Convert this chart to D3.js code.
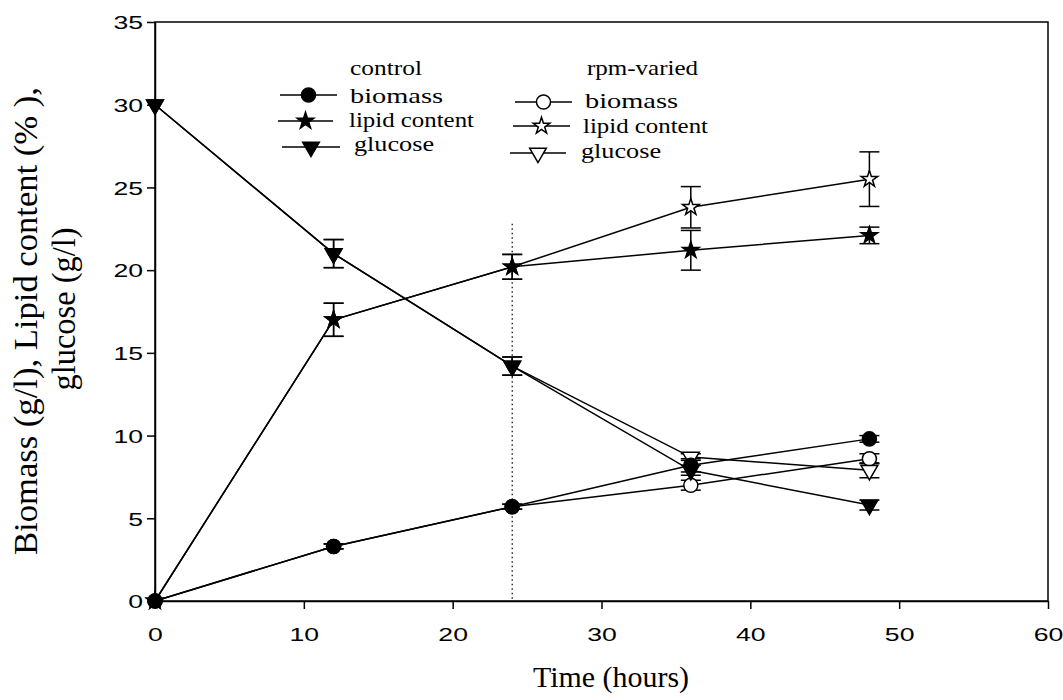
<!DOCTYPE html>
<html>
<head>
<meta charset="utf-8">
<script src="https://cdn.jsdelivr.net/npm/d3@7"></script>
<style>
  html, body { margin: 0; padding: 0; background: #fff; }
  svg { display: block; }
</style>
</head>
<body>
<svg id="chart" width="1063" height="700"></svg>
<script>
// Sampling times (hours)
const hours = [0, 12, 24, 36, 48];

// Control culture
const ctrlBiomass = [0, 3.3, 5.7, 8.2, 9.8];
const ctrlBiomassErr = [0, 0.15, 0.15, 0.4, 0.2];
const ctrlLipid = [0, 17.0, 20.2, 21.2, 22.1];
const ctrlLipidErr = [0, 1.0, 0.75, 1.2, 0.5];
const ctrlGlucose = [30, 21.0, 14.2, 7.9, 5.8];
const ctrlGlucoseErr = [0, 0.85, 0.55, 0.3, 0.3];

// rpm-varied culture
const rpmBiomass = [0, 3.3, 5.7, 7.0, 8.6];
const rpmBiomassErr = [0, 0.15, 0.15, 0.3, 0.3];
const rpmLipid = [0, 17.0, 20.2, 23.8, 25.5];
const rpmLipidErr = [0, 1.0, 0.75, 1.25, 1.65];
const rpmGlucose = [30, 21.0, 14.2, 8.7, 7.9];
const rpmGlucoseErr = [0, 0.85, 0.55, 0.2, 0.45];

const xTicks = [0, 10, 20, 30, 40, 50, 60];
const yTicks = [0, 5, 10, 15, 20, 25, 30, 35];
const shiftTime = 24;   // time of the agitation change
const shiftTop = 22.8;

const svg = d3.select("#chart");
const x = d3.scaleLinear().domain([0, 60]).range([155, 1048]);
const y = d3.scaleLinear().domain([0, 35]).range([601, 22]);

const serif = "'Liberation Serif', 'Times New Roman', serif";
const sans = "'Liberation Sans', Arial, sans-serif";

// Frame
svg.append("rect")
  .attr("x", x(0)).attr("y", y(35))
  .attr("width", x(60) - x(0)).attr("height", y(0) - y(35))
  .attr("fill", "none").attr("stroke", "#000").attr("stroke-width", 1.5);

// Axes
const xAxis = svg.append("g")
  .attr("transform", `translate(0,${y(0)})`)
  .call(d3.axisBottom(x).tickValues(xTicks).tickSize(8).tickSizeOuter(0).tickFormat(d3.format("d")));
const yAxis = svg.append("g")
  .attr("transform", `translate(${x(0)},0)`)
  .call(d3.axisLeft(y).tickValues(yTicks).tickSize(8).tickSizeOuter(0).tickFormat(d3.format("d")));

[xAxis, yAxis].forEach(g => {
  g.select(".domain").attr("stroke-width", 1.5);
  g.selectAll(".tick line").attr("stroke-width", 1.5);
  g.selectAll(".tick text")
    .attr("font-family", sans).attr("font-size", 19).attr("fill", "#000");
});
xAxis.selectAll(".tick text")
  .attr("y", 0).attr("dy", 0)
  .attr("transform", "translate(0,40) scale(1.4,1)");
yAxis.selectAll(".tick text")
  .attr("x", 0).attr("dy", "0.36em")
  .attr("transform", "translate(-12,0) scale(1.4,1)");

// Axis titles
svg.append("text")
  .attr("x", 611).attr("y", 687)
  .attr("text-anchor", "middle")
  .attr("font-family", serif).attr("font-size", 29)
  .attr("textLength", 156).attr("lengthAdjust", "spacingAndGlyphs")
  .text("Time (hours)");

const yTitle = svg.append("text")
  .attr("transform", "rotate(-90)")
  .attr("font-family", serif).attr("font-size", 33)
  .attr("text-anchor", "middle");
yTitle.append("tspan").attr("x", -321).attr("y", 37)
  .attr("textLength", 468).attr("lengthAdjust", "spacingAndGlyphs")
  .text("Biomass (g/l), Lipid content (% ),");
yTitle.append("tspan").attr("x", -309).attr("y", 75)
  .attr("textLength", 163).attr("lengthAdjust", "spacingAndGlyphs")
  .text("glucose (g/l)");

// Dotted marker for the agitation shift
svg.append("line")
  .attr("x1", x(shiftTime)).attr("x2", x(shiftTime))
  .attr("y1", y(shiftTop)).attr("y2", y(0))
  .attr("stroke", "#000").attr("stroke-width", 1.2)
  .attr("stroke-dasharray", "1.5,3");

// Marker shapes
const shapes = {
  circle: d3.symbol(d3.symbolCircle).size(155)(),
  star: d3.symbol(d3.symbolStar).size(85)(),
  tri: d3.symbol(d3.symbolTriangle).size(120)()
};

const series = [
  { v: rpmBiomass, e: rpmBiomassErr, shape: "circle", fill: "#fff" },
  { v: rpmLipid, e: rpmLipidErr, shape: "star", fill: "#fff" },
  { v: rpmGlucose, e: rpmGlucoseErr, shape: "tri", fill: "#fff" },
  { v: ctrlBiomass, e: ctrlBiomassErr, shape: "circle", fill: "#000" },
  { v: ctrlLipid, e: ctrlLipidErr, shape: "star", fill: "#000" },
  { v: ctrlGlucose, e: ctrlGlucoseErr, shape: "tri", fill: "#000" }
];

const line = d3.line().x(d => x(d.t)).y(d => y(d.v));
const capW = 10;

// Lines first, then error bars and markers
series.forEach(s => {
  const pts = hours.map((t, i) => ({ t, v: s.v[i], e: s.e[i] }));
  svg.append("path").datum(pts)
    .attr("d", line).attr("fill", "none")
    .attr("stroke", "#000").attr("stroke-width", 1.5);
});

series.forEach(s => {
  const pts = hours.map((t, i) => ({ t, v: s.v[i], e: s.e[i] })).filter(p => p.e > 0);
  const g = svg.append("g").attr("stroke", "#000").attr("stroke-width", 1.5);
  g.selectAll(".stem").data(pts).join("line")
    .attr("x1", d => x(d.t)).attr("x2", d => x(d.t))
    .attr("y1", d => y(d.v - d.e)).attr("y2", d => y(d.v + d.e));
  g.selectAll(".capTop").data(pts).join("line")
    .attr("x1", d => x(d.t) - capW).attr("x2", d => x(d.t) + capW)
    .attr("y1", d => y(d.v + d.e)).attr("y2", d => y(d.v + d.e));
  g.selectAll(".capBot").data(pts).join("line")
    .attr("x1", d => x(d.t) - capW).attr("x2", d => x(d.t) + capW)
    .attr("y1", d => y(d.v - d.e)).attr("y2", d => y(d.v - d.e));
});

series.forEach(s => {
  const pts = hours.map((t, i) => ({ t, v: s.v[i] }));
  svg.append("g").selectAll("path").data(pts).join("path")
    .attr("d", shapes[s.shape])
    .attr("transform", d => `translate(${x(d.t)},${y(d.v)})` + (s.shape === "tri" ? " rotate(180)" : ""))
    .attr("fill", s.fill).attr("stroke", "#000").attr("stroke-width", 1.5);
});

// Legend
const legendGroups = [
  { title: "control", tx: 350, ty: 75, tw: 72, fill: "#000",
    rows: [
      { label: "biomass", shape: "circle", x1: 280, x2: 337, y: 95, tx: 350, ty: 103, tw: 93 },
      { label: "lipid content", shape: "star", x1: 278, x2: 333, y: 121, tx: 349, ty: 127, tw: 125 },
      { label: "glucose", shape: "tri", x1: 282, x2: 340, y: 147, tx: 354, ty: 151, tw: 80 }
    ] },
  { title: "rpm-varied", tx: 587, ty: 75, tw: 111, fill: "#fff",
    rows: [
      { label: "biomass", shape: "circle", x1: 515, x2: 572, y: 102, tx: 585, ty: 108, tw: 93 },
      { label: "lipid content", shape: "star", x1: 513, x2: 570, y: 126, tx: 583, ty: 133, tw: 125 },
      { label: "glucose", shape: "tri", x1: 510, x2: 566, y: 153, tx: 581, ty: 158, tw: 80 }
    ] }
];

legendGroups.forEach(grp => {
  svg.append("text")
    .attr("x", grp.tx).attr("y", grp.ty)
    .attr("font-family", serif).attr("font-size", 22)
    .attr("textLength", grp.tw).attr("lengthAdjust", "spacingAndGlyphs")
    .text(grp.title);
  grp.rows.forEach(r => {
    svg.append("line")
      .attr("x1", r.x1).attr("x2", r.x2).attr("y1", r.y).attr("y2", r.y)
      .attr("stroke", "#000").attr("stroke-width", 1.5);
    svg.append("path")
      .attr("d", shapes[r.shape])
      .attr("transform", `translate(${(r.x1 + r.x2) / 2},${r.y})` + (r.shape === "tri" ? " rotate(180)" : ""))
      .attr("fill", grp.fill).attr("stroke", "#000").attr("stroke-width", 1.5);
    svg.append("text")
      .attr("x", r.tx).attr("y", r.ty)
      .attr("font-family", serif).attr("font-size", 22)
      .attr("textLength", r.tw).attr("lengthAdjust", "spacingAndGlyphs")
      .text(r.label);
  });
});
</script>
</body>
</html>
